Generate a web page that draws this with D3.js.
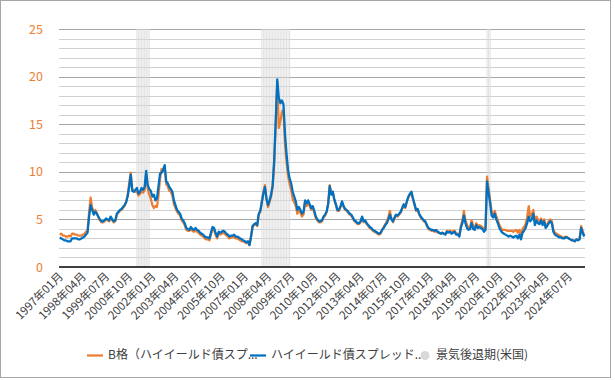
<!DOCTYPE html>
<html>
<head>
<meta charset="utf-8">
<script src="https://cdn.jsdelivr.net/npm/d3@7"></script>
<style>
  body { margin: 0; background: #fff; }
  svg text { font-family: "Noto Sans CJK JP", "Noto Sans", sans-serif; }
</style>
</head>
<body>
<div id="chart"></div>
<script>
// monthly spreads (%), 1997-01 .. 2025-05, one line per year
const hySpread = [
  3.1, 3.0, 2.9, 2.8, 2.8, 2.7, 2.7, 2.7, 3.0, 3.0, 3.0, 3.0,
  2.9, 2.9, 3.0, 3.1, 3.2, 3.4, 3.6, 5.3, 6.5, 6.0, 5.5, 5.8,
  5.6, 5.3, 5.0, 4.8, 4.8, 4.9, 5.1, 5.0, 4.9, 5.3, 5.0, 4.8,
  4.9, 5.6, 5.8, 6.0, 6.1, 6.3, 6.5, 6.8, 7.4, 8.4, 9.7, 8.0,
  7.9, 8.1, 8.3, 7.7, 7.9, 8.3, 8.1, 8.4, 10.1, 8.6, 8.2, 8.0,
  7.4, 7.6, 7.0, 7.2, 8.5, 9.8, 9.9, 10.2, 10.7, 9.0, 8.8, 8.4,
  8.2, 7.9, 7.0, 6.5, 6.0, 5.8, 5.6, 5.1, 4.9, 4.6, 4.1, 4.0,
  3.9, 4.2, 4.0, 3.9, 4.1, 3.9, 3.8, 3.6, 3.5, 3.4, 3.2, 3.1,
  3.1, 3.0, 3.6, 4.2, 4.1, 3.6, 3.2, 3.7, 3.6, 3.7, 3.8, 3.7,
  3.5, 3.4, 3.2, 3.3, 3.3, 3.4, 3.2, 3.2, 3.1, 3.0, 2.9, 2.8,
  2.7, 2.6, 2.7, 2.3, 3.2, 4.3, 4.5, 4.6, 4.4, 5.6, 5.9, 6.8,
  7.7, 8.4, 7.2, 6.5, 7.0, 7.6, 8.6, 11.2, 15.4, 19.7, 17.8, 17.2,
  17.5, 17.1, 14.0, 11.9, 10.2, 9.3, 8.8, 7.9, 7.4, 6.9, 6.0, 6.3,
  6.0, 5.6, 5.8, 7.0, 6.7, 7.0, 6.6, 6.2, 6.4, 5.9, 5.3, 5.0,
  4.8, 4.8, 4.9, 5.3, 5.5, 5.8, 6.6, 8.5, 7.6, 7.9, 7.1, 6.6,
  6.0, 6.0, 6.4, 6.9, 6.4, 6.1, 6.0, 5.8, 5.6, 5.5, 5.2, 4.9,
  4.8, 4.6, 4.6, 4.8, 5.3, 4.8, 4.9, 4.6, 4.4, 4.2, 4.1, 3.9,
  3.8, 3.7, 3.6, 3.5, 3.6, 3.9, 4.1, 4.4, 4.6, 5.0, 5.5, 5.0,
  4.8, 5.2, 5.5, 5.4, 5.6, 5.8, 6.2, 6.6, 6.3, 6.9, 7.4, 7.7,
  7.9, 7.2, 6.6, 6.0, 6.1, 5.6, 5.3, 5.1, 4.9, 4.8, 4.4, 4.1,
  4.0, 3.9, 3.9, 3.8, 3.9, 3.7, 3.6, 3.5, 3.6, 3.5, 3.4, 3.7,
  3.6, 3.7, 3.5, 3.6, 3.7, 3.4, 3.4, 3.2, 4.1, 4.6, 5.4, 4.6,
  4.1, 3.9, 4.0, 4.6, 4.0, 3.9, 4.4, 4.1, 4.2, 4.1, 4.0, 3.7,
  3.9, 9.0, 7.8, 6.7, 5.4, 5.2, 5.6, 5.0, 4.6, 4.1, 3.8, 3.6,
  3.5, 3.4, 3.3, 3.2, 3.3, 3.2, 3.1, 3.2, 3.3, 3.0, 3.4, 2.9,
  3.6, 3.8, 4.1, 4.6, 5.3, 4.8, 5.0, 5.6, 4.4, 4.9, 4.6, 4.5,
  4.9, 4.4, 4.8, 4.1, 4.3, 4.6, 4.8, 4.6, 3.7, 3.4, 3.3, 3.2,
  3.1, 3.1, 3.0, 3.0, 3.1, 3.1, 3.0, 2.9, 2.8, 2.8, 2.7, 2.9,
  2.8, 2.9, 4.1, 3.6, 3.2
];

const bSpread = [
  3.4, 3.5, 3.3, 3.3, 3.2, 3.2, 3.3, 3.2, 3.5, 3.5, 3.4, 3.4,
  3.3, 3.3, 3.3, 3.4, 3.5, 3.7, 3.8, 5.7, 7.3, 6.2, 5.8, 6.0,
  5.7, 5.2, 4.9, 4.7, 4.7, 4.8, 5.0, 4.9, 4.8, 5.2, 4.9, 4.7,
  4.8, 5.5, 5.7, 5.9, 6.0, 6.2, 6.4, 6.8, 7.6, 8.8, 9.9, 8.2,
  8.0, 7.9, 8.0, 7.5, 7.7, 8.0, 7.8, 8.1, 9.8, 8.3, 7.6, 7.2,
  6.5, 6.2, 6.4, 6.3, 7.5, 9.3, 10.3, 10.1, 10.5, 8.7, 8.5, 8.0,
  7.9, 7.5, 6.6, 6.2, 5.8, 5.6, 5.4, 4.9, 4.7, 4.4, 3.9, 3.8,
  3.8, 4.0, 3.8, 3.7, 3.9, 3.7, 3.6, 3.4, 3.3, 3.2, 3.0, 2.9,
  2.9, 2.8, 3.4, 4.0, 3.9, 3.4, 3.0, 3.5, 3.4, 3.5, 3.6, 3.5,
  3.3, 3.2, 3.0, 3.1, 3.1, 3.2, 3.0, 3.0, 2.9, 2.8, 2.7, 2.7,
  2.6, 2.5, 2.6, 2.3, 3.2, 4.2, 4.4, 4.5, 4.3, 5.5, 5.8, 6.9,
  7.9, 8.6, 7.2, 6.3, 6.8, 7.4, 8.4, 10.8, 15.0, 19.4, 14.6, 15.3,
  16.3, 16.5, 13.0, 11.0, 9.6, 8.7, 8.1, 7.1, 6.8, 6.4, 5.6, 5.9,
  5.7, 5.3, 5.5, 6.7, 6.4, 6.8, 6.4, 6.0, 6.2, 5.7, 5.1, 4.9,
  4.7, 4.7, 4.8, 5.2, 5.4, 5.8, 6.7, 8.6, 7.8, 7.9, 7.0, 6.5,
  5.9, 5.9, 6.3, 6.8, 6.3, 6.0, 5.9, 5.7, 5.5, 5.4, 5.1, 4.8,
  4.7, 4.5, 4.5, 4.7, 5.2, 4.7, 4.8, 4.5, 4.3, 4.1, 4.0, 3.8,
  3.7, 3.6, 3.5, 3.4, 3.5, 3.9, 4.2, 4.5, 4.8, 5.2, 5.9, 5.1,
  4.7, 5.1, 5.4, 5.3, 5.5, 5.7, 6.1, 6.5, 6.2, 6.8, 7.3, 7.6,
  7.8, 7.1, 6.5, 5.9, 6.0, 5.5, 5.2, 5.0, 4.8, 4.7, 4.3, 4.0,
  3.9, 3.8, 3.8, 3.7, 3.8, 3.6, 3.6, 3.5, 3.6, 3.5, 3.5, 3.8,
  3.7, 3.8, 3.6, 3.8, 3.8, 3.5, 3.5, 3.3, 4.3, 4.9, 5.9, 4.9,
  4.4, 4.1, 4.2, 4.9, 4.3, 4.1, 4.6, 4.3, 4.4, 4.3, 4.2, 3.9,
  4.1, 9.5, 8.2, 7.0, 5.7, 5.5, 5.9, 5.3, 4.9, 4.4, 4.1, 3.9,
  3.9, 3.9, 3.8, 3.8, 3.8, 3.8, 3.7, 3.8, 3.9, 3.6, 3.9, 3.4,
  4.0, 4.2, 4.5, 5.2, 6.4, 5.3, 5.5, 6.0, 4.8, 5.3, 5.0, 4.8,
  5.1, 4.6, 5.0, 4.3, 4.5, 4.8, 5.0, 4.8, 3.9, 3.6, 3.5, 3.4,
  3.3, 3.2, 3.1, 3.1, 3.2, 3.1, 3.0, 2.9, 2.8, 2.8, 2.7, 2.9,
  2.9, 3.0, 4.3, 3.8, 3.3
];

// US recessions (first and last month)
const recessions = [["2001-03", "2001-11"], ["2007-12", "2009-06"], ["2020-02", "2020-04"]];

const tickLabels = ["1997年01月", "1998年04月", "1999年07月", "2000年10月", "2002年01月",
  "2003年04月", "2004年07月", "2005年10月", "2007年01月", "2008年04月", "2009年07月",
  "2010年10月", "2012年01月", "2013年04月", "2014年07月", "2015年10月", "2017年01月",
  "2018年04月", "2019年07月", "2020年10月", "2022年01月", "2023年04月", "2024年07月"];

const legendNames = ["B格（ハイイールド債スプ...", "ハイイールド債スプレッド...", "景気後退期(米国)"];

const W = 615, H = 380;
const margin = {left: 59, right: 30, top: 29, bottom: 113};

// month keys "YYYY-MM"
const months = hySpread.map((_, i) => {
  const y = 1997 + Math.floor(i / 12), m = i % 12 + 1;
  return y + "-" + String(m).padStart(2, "0");
});
const toLabel = k => k.slice(0, 4) + "年" + k.slice(5) + "月";

const svg = d3.select("#chart").append("svg").attr("width", W).attr("height", H);

svg.append("rect").attr("x", 0.5).attr("y", 0.5).attr("width", 610).attr("height", 377)
  .attr("fill", "#fff").attr("stroke", "#a6a6a6");

const x = d3.scaleBand().domain(months).range([margin.left, W - margin.right]).padding(0);
const y = d3.scaleLinear().domain([0, 25]).range([H - margin.bottom, margin.top]);
const bw = x.bandwidth();
const cx = k => x(k) + bw / 2;

// gridlines
const g = svg.append("g");
g.selectAll("line.grid").data(d3.range(1, 26)).enter().append("line")
  .attr("x1", margin.left).attr("x2", W - margin.right)
  .attr("y1", d => Math.round(y(d)) + 0.5).attr("y2", d => Math.round(y(d)) + 0.5)
  .attr("stroke", d => d % 5 === 0 ? "#a6a6a6" : "#d0d0d0").attr("stroke-width", 1);

// recession bars
const recMonths = months.filter(k => recessions.some(r => k >= r[0] && k <= r[1]));
g.selectAll("rect.rec").data(recMonths).enter().append("rect")
  .attr("x", d => x(d) + bw * 0.15).attr("width", bw * 0.7)
  .attr("y", y(25)).attr("height", y(0) - y(25))
  .attr("fill", "#d9d9d9").attr("opacity", 0.75);

// y labels
g.selectAll("text.yl").data(d3.range(0, 26, 5)).enter().append("text")
  .attr("x", 43).attr("y", d => y(d)).attr("dy", "0.36em")
  .attr("text-anchor", "end").attr("font-size", 12.5).attr("fill", "#ed7d31")
  .text(d => d);

// series lines
const line = vals => d3.line().x((d, i) => cx(months[i])).y(d => y(d))(vals);
g.append("path").attr("d", line(bSpread)).attr("fill", "none")
  .attr("stroke", "#ed7d31").attr("stroke-width", 2.25).attr("stroke-linejoin", "round");
g.append("path").attr("d", line(hySpread)).attr("fill", "none")
  .attr("stroke", "#0070c0").attr("stroke-width", 2.25).attr("stroke-linejoin", "round");

// x axis line
g.append("line").attr("x1", margin.left).attr("x2", W - margin.right)
  .attr("y1", y(0)).attr("y2", y(0)).attr("stroke", "#000").attr("stroke-width", 1.5);

// x labels
const tickKeys = tickLabels.map(t => t.slice(0, 4) + "-" + t.slice(5, 7));
g.selectAll("text.xl").data(tickKeys).enter().append("text")
  .attr("transform", d => `translate(${cx(d) + 4},${y(0) + 10}) rotate(-45)`)
  .attr("text-anchor", "end").attr("font-size", 11.5).attr("fill", "#404040")
  .text(d => toLabel(d));

// legend
const lg = svg.append("g").attr("font-size", 12).attr("fill", "#404040");
lg.append("line").attr("x1", 87).attr("x2", 103).attr("y1", 355.5).attr("y2", 355.5)
  .attr("stroke", "#ed7d31").attr("stroke-width", 2.25);
lg.append("text").attr("x", 108).attr("y", 355).attr("dy", "0.36em").text(legendNames[0]);
lg.append("line").attr("x1", 250).attr("x2", 266).attr("y1", 355.5).attr("y2", 355.5)
  .attr("stroke", "#0070c0").attr("stroke-width", 2.25);
lg.append("text").attr("x", 271).attr("y", 355).attr("dy", "0.36em").text(legendNames[1]);
lg.append("circle").attr("cx", 425).attr("cy", 355.5).attr("r", 4.5).attr("fill", "#d9d9d9");
lg.append("text").attr("x", 436).attr("y", 355).attr("dy", "0.36em").text(legendNames[2]);
</script>
</body>
</html>
